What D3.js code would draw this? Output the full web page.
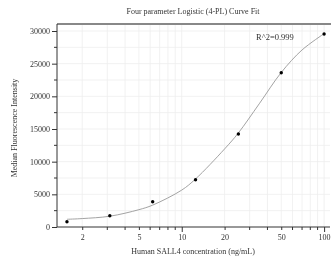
<!DOCTYPE html>
<html>
<head>
<meta charset="utf-8">
<script src="https://cdn.jsdelivr.net/npm/d3@7"></script>
<style>
  body { margin: 0; background: #fff; }
  svg { will-change: transform; }
  text { font-family: "Liberation Serif", "DejaVu Serif", serif; fill: #333; }
</style>
</head>
<body>
<script>
// measured points
const conc = [1.5625, 3.125, 6.25, 12.5, 25, 50, 100];
const mfi = [810, 1730, 3870, 7240, 14230, 23620, 29540];

// fitted curve
const curveConc = [1.5625, 2, 3.125, 5, 6.25, 10, 12.5, 20, 25, 35, 50, 70, 100];
const curveMfi = [1180, 1290, 1650, 2650, 3350, 5650, 7350, 11950, 14400, 18850, 23650, 27100, 29590];

const xMajor = [2, 5, 10, 20, 50, 100];
const xMinor = [3, 4, 6, 7, 8, 9, 30, 40, 60, 70, 80, 90];
const yMajor = [0, 5000, 10000, 15000, 20000, 25000, 30000];
const yMinor = [2500, 7500, 12500, 17500, 22500, 27500];

const W = 331, H = 264;
const margin = {top: 24, right: 1, bottom: 37, left: 57};
const width = W - margin.left - margin.right,
      height = H - margin.top - margin.bottom;

const svg = d3.select("body").append("svg")
  .attr("width", W).attr("height", H);

const g = svg.append("g")
  .attr("transform", "translate(" + margin.left + "," + margin.top + ")");

const x = d3.scaleLog().domain([1.33, 110]).range([0, width]);
const y = d3.scaleLinear().domain([0, 30000]).range([height, 7]);

// grid
g.append("g").selectAll("line")
  .data(xMajor.concat(xMinor))
  .join("line")
    .attr("x1", d => x(d)).attr("x2", d => x(d))
    .attr("y1", 0).attr("y2", height)
    .attr("stroke", "#eeeeee").attr("stroke-width", 0.8);
g.append("g").selectAll("line")
  .data(yMajor.concat(yMinor).filter(d => d > 0))
  .join("line")
    .attr("x1", 0).attr("x2", width)
    .attr("y1", d => y(d)).attr("y2", d => y(d))
    .attr("stroke", "#eeeeee").attr("stroke-width", 0.8);

// top border
g.append("line")
  .attr("x1", 0).attr("x2", width + 1)
  .attr("y1", 0).attr("y2", 0)
  .attr("stroke", "#888").attr("stroke-width", 2);

// y axis
const yAxis = g.append("g")
  .call(d3.axisLeft(y).tickValues(yMajor).tickSize(5).tickPadding(2).tickFormat(d3.format("d")));
yAxis.select(".domain").attr("d", "M0,0V" + height).attr("stroke", "#333");
yAxis.selectAll("line").attr("stroke", "#333");
yAxis.selectAll("text").attr("fill", "#333").style("font-size", "8px");
g.append("g").selectAll("line")
  .data(yMinor).join("line")
    .attr("x1", -3).attr("x2", 0)
    .attr("y1", d => y(d)).attr("y2", d => y(d))
    .attr("stroke", "#333");

// x axis
const xAxis = g.append("g")
  .attr("transform", "translate(0," + height + ")")
  .call(d3.axisBottom(x).tickValues(xMajor).tickSize(3).tickPadding(4).tickFormat(d3.format("d")));
xAxis.select(".domain").attr("d", "M0,0H" + width).attr("stroke", "#333");
xAxis.selectAll("line").attr("stroke", "#333").attr("y2", d => (d === 10 || d === 100) ? 5 : 3);
xAxis.selectAll("text").attr("fill", "#333").style("font-size", "8px");
g.append("g").selectAll("line")
  .data(xMinor).join("line")
    .attr("x1", d => x(d)).attr("x2", d => x(d))
    .attr("y1", height).attr("y2", height + 3)
    .attr("stroke", "#333");

// fitted curve
const line = d3.line()
  .x((d, i) => x(curveConc[i]))
  .y(d => y(d))
  .curve(d3.curveCatmullRom.alpha(0.5));
g.append("path")
  .datum(curveMfi)
  .attr("d", line)
  .attr("fill", "none")
  .attr("stroke", "#999")
  .attr("stroke-width", 0.9);

// points
g.append("g").selectAll("circle")
  .data(mfi).join("circle")
    .attr("cx", (d, i) => x(conc[i]))
    .attr("cy", d => y(d))
    .attr("r", 1.7)
    .attr("fill", "#000");

// texts
svg.append("text")
  .attr("x", 193).attr("y", 14)
  .attr("text-anchor", "middle")
  .style("font-size", "8px")
  .text("Four parameter Logistic (4-PL) Curve Fit");

svg.append("text")
  .attr("x", 256).attr("y", 40)
  .style("font-size", "8.5px")
  .text("R^2=0.999");

svg.append("text")
  .attr("x", 193).attr("y", 254)
  .attr("text-anchor", "middle")
  .style("font-size", "8px")
  .text("Human SALL4 concentration (ng/mL)");

svg.append("text")
  .attr("transform", "translate(17,128) rotate(-90)")
  .attr("text-anchor", "middle")
  .style("font-size", "8px")
  .text("Median Fluorescence Intensity");
</script>
</body>
</html>
